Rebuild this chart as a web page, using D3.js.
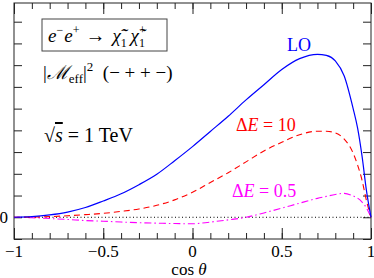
<!DOCTYPE html>
<html>
<head>
<meta charset="utf-8">
<script src="https://cdn.jsdelivr.net/npm/d3@7"></script>
<style>
  body { margin: 0; background: #fff; }
  text { font-family: "Liberation Serif", "DejaVu Serif", serif; }
</style>
</head>
<body>
<div id="chart"></div>
<script>
// values (y in arbitrary units, 0 = dotted line)
const cosTheta = [-1, -0.9, -0.8, -0.7, -0.6, -0.5, -0.4, -0.3, -0.2, -0.1, 0,
  0.1, 0.2, 0.3, 0.4, 0.5, 0.6, 0.7, 0.75, 0.8, 0.85, 0.9, 0.925, 0.95, 0.975, 1];
const lo   = [0, 0.03, 0.11, 0.24, 0.45, 0.75, 1.08, 1.5, 1.98, 2.6, 3.25,
  3.95, 4.65, 5.4, 6.1, 6.8, 7.3, 7.5, 7.45, 7.2, 6.5, 5.0, 4.1, 2.8, 1.2, 0];
const dE10 = [0, 0.01, 0.03, 0.07, 0.12, 0.18, 0.27, 0.38, 0.55, 0.8, 1.15,
  1.6, 2.05, 2.55, 3.05, 3.45, 3.8, 3.96, 3.96, 3.88, 3.6, 2.95, 2.4, 1.7, 0.75, 0];
const dE05 = [0, -0.02, -0.06, -0.1, -0.15, -0.18, -0.22, -0.25, -0.27, -0.29, -0.3,
  -0.22, -0.12, 0.0, 0.2, 0.42, 0.65, 0.87, 0.96, 1.05, 1.1, 0.98, 0.88, 0.7, 0.42, 0];

const xMajor = [-1, -0.5, 0, 0.5, 1];
const xMajorLabels = ["\u22121", "\u22120.5", "0", "0.5", "1"];
const xMinor = d3.range(-10, 11).map(d => d / 10);
const yTicks = d3.range(-1, 10);

const W = 374, H = 278;
const pLeft = 14, pRight = 371, pTop = 3, pBottom = 239;

const svg = d3.select("#chart").append("svg")
  .attr("width", W).attr("height", H);

const x = d3.scaleLinear().domain([-1, 1]).range([pLeft, pRight]);
const y = d3.scaleLinear().domain([-1, 9.86]).range([pBottom, pTop]);

// frame
svg.append("rect")
  .attr("x", pLeft).attr("y", pTop)
  .attr("width", pRight - pLeft).attr("height", pBottom - pTop)
  .attr("fill", "none").attr("stroke", "#222").attr("stroke-width", 1);

const tickStyle = g => {
  g.select(".domain").remove();
  g.selectAll("line").attr("stroke", "#222");
};

// x ticks, bottom and top
svg.append("g").attr("transform", `translate(0,${pBottom})`)
  .call(d3.axisTop(x).tickValues(xMinor).tickSize(6).tickFormat(""))
  .call(tickStyle);
svg.append("g").attr("transform", `translate(0,${pTop})`)
  .call(d3.axisBottom(x).tickValues(xMinor).tickSize(6).tickFormat(""))
  .call(tickStyle);
svg.append("g").attr("transform", `translate(0,${pBottom})`)
  .call(d3.axisTop(x).tickValues(xMajor).tickSize(11).tickFormat(""))
  .call(tickStyle);
svg.append("g").attr("transform", `translate(0,${pTop})`)
  .call(d3.axisBottom(x).tickValues(xMajor).tickSize(11).tickFormat(""))
  .call(tickStyle);

// x tick labels
svg.append("g").selectAll("text")
  .data(xMajor)
  .join("text")
  .attr("x", d => x(d))
  .attr("y", 257)
  .attr("text-anchor", "middle")
  .style("font-size", "17px")
  .text((d, i) => xMajorLabels[i]);

// y ticks, left and right
svg.append("g").attr("transform", `translate(${pLeft},0)`)
  .call(d3.axisRight(y).tickValues(yTicks).tickSize(8).tickFormat(""))
  .call(tickStyle);
svg.append("g").attr("transform", `translate(${pRight},0)`)
  .call(d3.axisLeft(y).tickValues(yTicks).tickSize(8).tickFormat(""))
  .call(tickStyle);

svg.append("text")
  .attr("x", 8).attr("y", y(0) + 6)
  .attr("text-anchor", "end")
  .style("font-size", "17px")
  .text("0");

// zero line
svg.append("line")
  .attr("x1", pLeft).attr("x2", pRight)
  .attr("y1", y(0)).attr("y2", y(0))
  .attr("stroke", "#000").attr("stroke-width", 1)
  .attr("stroke-dasharray", "1,2.5");

// curves
const line = d3.line()
  .x((d, i) => x(cosTheta[i]))
  .y(d => y(d))
  .curve(d3.curveMonotoneX);

svg.append("path").datum(dE05)
  .attr("d", line).attr("fill", "none")
  .attr("stroke", "#ff00ff").attr("stroke-width", 1.1)
  .attr("stroke-dasharray", "7,3,1.5,3");
svg.append("path").datum(dE10)
  .attr("d", line).attr("fill", "none")
  .attr("stroke", "#ff0000").attr("stroke-width", 1.1)
  .attr("stroke-dasharray", "6,4");
svg.append("path").datum(lo)
  .attr("d", line).attr("fill", "none")
  .attr("stroke", "#0000ff").attr("stroke-width", 1.2);

// curve labels
svg.append("text").attr("x", 287).attr("y", 51)
  .style("font-size", "18px").attr("fill", "#0000ff").text("LO");

const lab10 = svg.append("text").attr("x", 236).attr("y", 131)
  .style("font-size", "18px").attr("fill", "#ff0000");
lab10.append("tspan").text("\u0394");
lab10.append("tspan").style("font-style", "italic").text("E");
lab10.append("tspan").text(" = 10");

const lab05 = svg.append("text").attr("x", 232).attr("y", 197)
  .style("font-size", "18px").attr("fill", "#ff00ff");
lab05.append("tspan").text("\u0394");
lab05.append("tspan").style("font-style", "italic").text("E");
lab05.append("tspan").text(" = 0.5");

// process box: e- e+ -> chi1- chi1+ (scripts stacked)
const procY = 42;
const proc = svg.append("g");
let cx = 48;
function piece(txt, size, dy, italic, advance) {
  const t = proc.append("text").attr("x", cx).attr("y", procY + dy)
    .style("font-size", size + "px")
    .style("font-style", italic ? "italic" : "normal")
    .text(txt);
  const w = t.node().getComputedTextLength();
  if (advance) cx += w;
  return w;
}
piece("e", 19, 0, true, true);
piece("\u2212", 12, -8, false, true);
cx += 1;
piece("e", 19, 0, true, true);
piece("+", 12, -8, false, true);
cx += 6;
piece("\u2192", 20, 0, false, true);
cx += 7;
for (const sign of ["\u2212", "+"]) {
  piece("\u03C7\u0303", 19, 0, true, true);
  const w1 = piece("1", 12, 5, false, false);
  const w2 = piece(sign, 12, -8, false, false);
  cx += Math.max(w1, w2) + 3;
}

svg.append("rect")
  .attr("x", 42).attr("y", 19)
  .attr("width", Math.max(125, cx - 42 + 3)).attr("height", 32)
  .attr("fill", "none").attr("stroke", "#444").attr("stroke-width", 1);

// |M_eff|^2 (-++-)
const amp = svg.append("text").attr("x", 43).attr("y", 79)
  .style("font-size", "19px");
amp.append("tspan").text("|");
amp.append("tspan").style("font-style", "italic").text("\u2133");
amp.append("tspan").attr("dy", 4).style("font-size", "13px").text("eff");
amp.append("tspan").attr("dy", -4).text("|");
amp.append("tspan").attr("dy", -8).style("font-size", "13px").text("2");
amp.append("tspan").attr("dy", 8).text("\u2002(\u2212 + + \u2212)");

// sqrt(s) = 1 TeV
const rs = svg.append("text").attr("x", 44).attr("y", 142)
  .style("font-size", "20px");
rs.append("tspan").text("\u221A");
rs.append("tspan").style("font-style", "italic")
  .style("text-decoration", "overline").text("s");
rs.append("tspan").text(" = 1 TeV");

// axis title
const xt = svg.append("text").attr("x", 189).attr("y", 275)
  .attr("text-anchor", "middle").style("font-size", "17px");
xt.append("tspan").text("cos ");
xt.append("tspan").style("font-style", "italic").text("\u03B8");
</script>
</body>
</html>
